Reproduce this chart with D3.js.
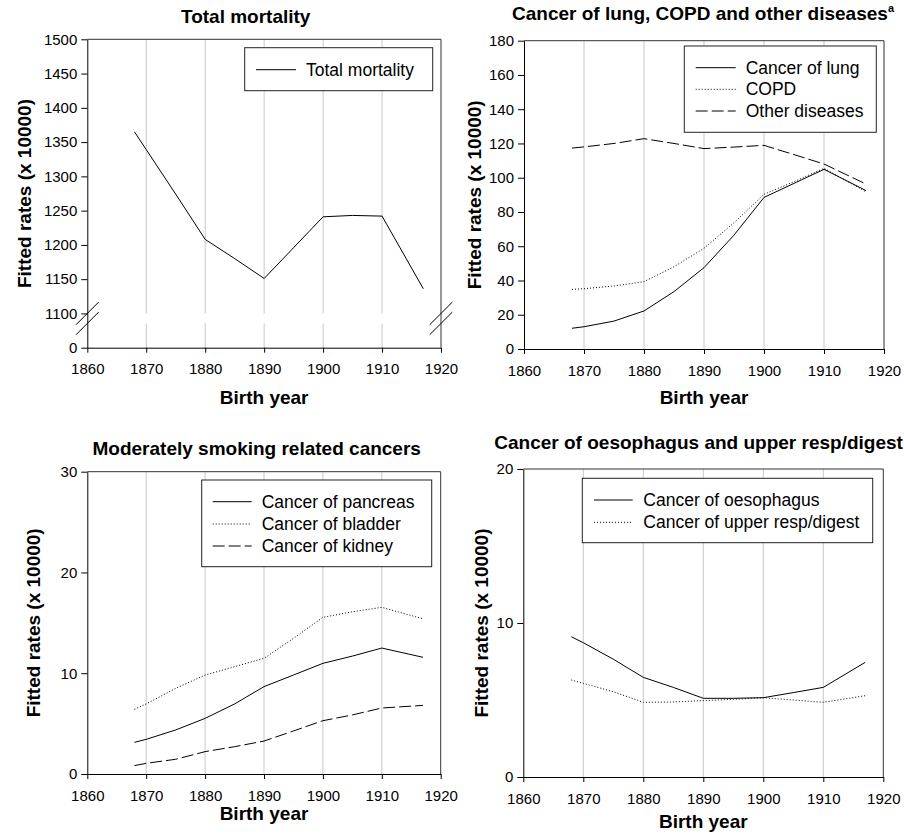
<!DOCTYPE html>
<html>
<head>
<meta charset="utf-8">
<script src="https://cdn.jsdelivr.net/npm/d3@7"></script>
<style>
  body { margin: 0; background: #fff; }
  svg { display: block; font-family: "Liberation Sans", Arial, sans-serif; }
</style>
</head>
<body>
<div id="vis"></div>
<script>
/*
Data
*/

const years = [1868, 1870, 1875, 1880, 1885, 1890, 1895, 1900, 1905, 1910, 1917];
const xTicks = [1860, 1870, 1880, 1890, 1900, 1910, 1920];

const totalMortality = [1365, 1339, 1274, 1208, 1180, 1151, 1196, 1241, 1243, 1242, 1136];

const lungCancer    = [12.1, 13, 16.3, 22.2, 33.5, 47.5, 66.5, 88.5, 96.7, 104.9, 92.5];
const copd          = [34.8, 35.2, 36.8, 39.3, 48, 58.8, 73.7, 90.3, 97.7, 105.5, 91.8];
const otherDiseases = [117.3, 118, 120, 122.8, 120, 117, 117.9, 118.9, 113.5, 108, 96.3];

const pancreas = [3.14, 3.44, 4.37, 5.52, 6.95, 8.67, 9.82, 10.98, 11.7, 12.5, 11.58];
const bladder  = [6.42, 6.95, 8.5, 9.82, 10.65, 11.48, 13.46, 15.55, 16.1, 16.54, 15.4];
const kidney   = [0.83, 1.06, 1.46, 2.22, 2.71, 3.27, 4.27, 5.29, 5.86, 6.55, 6.81];

const oesophagus  = [9.11, 8.72, 7.65, 6.47, 5.82, 5.11, 5.11, 5.15, 5.48, 5.82, 7.45];
const upperResp   = [6.3, 6.08, 5.54, 4.85, 4.87, 4.96, 5.04, 5.15, 5.0, 4.85, 5.28];

const yTicksTotal = [0, 1100, 1150, 1200, 1250, 1300, 1350, 1400, 1450, 1500];
const yTicksLung = [0, 20, 40, 60, 80, 100, 120, 140, 160, 180];
const yTicksModerate = [0, 10, 20, 30];
const yTicksOesoph = [0, 10, 20];

/*
Styles
*/

const DASH = {solid: null, dotted: "1,2", dashed: "12,4"};
const FONT_TICK = 15;
const FONT_BOLD = 19;
const FONT_LEGEND = 17.5;

const WIDTH = 904, HEIGHT = 834;

const svg = d3.select("#vis")
              .append("svg")
              .attr("width", WIDTH)
              .attr("height", HEIGHT);

/*
Panels
*/

const panels = [
  {
    title: "Total mortality", titleX: 245.7, titleY: 22.5, titleAnchor: "middle",
    left: 87.3, right: 441, top: 39.3, bottom: 347.7,
    yTicks: yTicksTotal, broken: true,
    ylabelX: 31, xlabelY: 404,
    series: [{name: "Total mortality", values: totalMortality, dash: "solid"}],
    legend: {x0: 244.7, x1: 432.7, y0: 47.7, y1: 90.7, lx0: 256, lx1: 296, tx: 306, rows: [69.7]}
  },
  {
    title: "Cancer of lung, COPD and other diseases", sup: "a", titleX: 512, titleY: 20, titleAnchor: "start",
    left: 524, right: 884, top: 40.7, bottom: 349,
    yTicks: yTicksLung,
    ylabelX: 481, xlabelY: 404,
    series: [
      {name: "Cancer of lung", values: lungCancer, dash: "solid"},
      {name: "COPD", values: copd, dash: "dotted"},
      {name: "Other diseases", values: otherDiseases, dash: "dashed"}
    ],
    legend: {x0: 684.3, x1: 876.3, y0: 46, y1: 132.3, lx0: 695.7, lx1: 735.7, tx: 745.7, rows: [67.7, 89.3, 111]}
  },
  {
    title: "Moderately smoking related cancers", titleX: 256.7, titleY: 455, titleAnchor: "middle",
    left: 87.3, right: 440.7, top: 471.7, bottom: 774,
    yTicks: yTicksModerate,
    ylabelX: 39.5, xlabelY: 820,
    series: [
      {name: "Cancer of pancreas", values: pancreas, dash: "solid"},
      {name: "Cancer of bladder", values: bladder, dash: "dotted"},
      {name: "Cancer of kidney", values: kidney, dash: "dashed"}
    ],
    legend: {x0: 201.7, x1: 431.7, y0: 480, y1: 566.7, lx0: 212.7, lx1: 251.7, tx: 261.7, rows: [501.7, 524, 546]}
  },
  {
    title: "Cancer of oesophagus and upper resp/digest", titleX: 494.3, titleY: 449.3, titleAnchor: "start",
    left: 523.3, right: 883.3, top: 469, bottom: 777,
    yTicks: yTicksOesoph,
    ylabelX: 488, xlabelY: 828,
    series: [
      {name: "Cancer of oesophagus", values: oesophagus, dash: "solid"},
      {name: "Cancer of upper resp/digest", values: upperResp, dash: "dotted"}
    ],
    legend: {x0: 582.3, x1: 872.7, y0: 478.3, y1: 542.7, lx0: 594, lx1: 632.7, tx: 643.3, rows: [500, 522.3]}
  }
];

panels.forEach(drawPanel);

function drawPanel(p) {
  const g = svg.append("g");

  const x = d3.scaleLinear().domain([1860, 1920]).range([p.left, p.right]);

  let y;
  if (p.broken) {
    // broken axis: 0 sits one tick step below 1100
    const step = (p.bottom - p.top) / (p.yTicks.length - 1);
    y = d3.scaleLinear().domain([0, 1100, 1500]).range([p.bottom, p.bottom - step, p.top]);
  } else {
    y = d3.scaleLinear().domain(d3.extent(p.yTicks)).range([p.bottom, p.top]);
  }

  // vertical grid lines
  const inner = xTicks.slice(1, -1);
  if (p.broken) {
    const yb = y(1100);
    g.selectAll("line.grid-a").data(inner).enter().append("line")
      .attr("x1", d => x(d)).attr("x2", d => x(d))
      .attr("y1", p.top).attr("y2", yb)
      .attr("stroke", "#c8c8c8");
    g.selectAll("line.grid-b").data(inner).enter().append("line")
      .attr("x1", d => x(d)).attr("x2", d => x(d))
      .attr("y1", yb + 10).attr("y2", p.bottom)
      .attr("stroke", "#c8c8c8");
  } else {
    g.selectAll("line.grid").data(inner).enter().append("line")
      .attr("x1", d => x(d)).attr("x2", d => x(d))
      .attr("y1", p.top).attr("y2", p.bottom)
      .attr("stroke", "#c8c8c8");
  }

  // top and right frame
  g.append("path")
    .attr("d", `M${p.left},${p.top}H${p.right}V${p.bottom}`)
    .attr("fill", "none")
    .attr("stroke", "#333");

  // axes
  const yAxis = g.append("g")
    .attr("transform", `translate(${p.left},0)`)
    .call(d3.axisLeft(y).tickValues(p.yTicks).tickFormat(d3.format("d"))
            .tickSize(6).tickPadding(4).tickSizeOuter(0));
  const xAxis = g.append("g")
    .attr("transform", `translate(0,${p.bottom})`)
    .call(d3.axisBottom(x).tickValues(xTicks).tickFormat(d3.format("d"))
            .tickSize(5).tickPadding(11).tickSizeOuter(0));

  [yAxis, xAxis].forEach(a => {
    a.selectAll("text").attr("font-size", FONT_TICK).attr("font-family", null).attr("fill", "#000");
    a.selectAll("line, path").attr("stroke", "#000");
  });

  // break marks
  if (p.broken) {
    const yb = y(1100) + 5;
    [p.left, p.right].forEach(cx => {
      [-5, 5].forEach(off => {
        g.append("line")
          .attr("x1", cx - 11.3).attr("y1", yb + off + 11.3)
          .attr("x2", cx + 11.3).attr("y2", yb + off - 11.3)
          .attr("stroke", "#000");
      });
    });
  }

  // series
  const line = d3.line()
                 .x((d, i) => x(years[i]))
                 .y(d => y(d));

  p.series.forEach(s => {
    g.append("path")
      .attr("d", line(s.values))
      .attr("fill", "none")
      .attr("stroke", "#000")
      .attr("stroke-width", 1)
      .attr("stroke-dasharray", DASH[s.dash]);
  });

  // legend
  const L = p.legend;
  g.append("rect")
    .attr("x", L.x0).attr("y", L.y0)
    .attr("width", L.x1 - L.x0).attr("height", L.y1 - L.y0)
    .attr("fill", "#fff").attr("stroke", "#222");
  p.series.forEach((s, i) => {
    g.append("line")
      .attr("x1", L.lx0).attr("x2", L.lx1)
      .attr("y1", L.rows[i]).attr("y2", L.rows[i])
      .attr("stroke", "#000")
      .attr("stroke-dasharray", DASH[s.dash]);
    g.append("text")
      .attr("x", L.tx).attr("y", L.rows[i] + 6)
      .attr("font-size", FONT_LEGEND)
      .text(s.name);
  });

  // titles and axis labels
  const t = g.append("text")
    .attr("x", p.titleX).attr("y", p.titleY)
    .attr("text-anchor", p.titleAnchor)
    .attr("font-size", FONT_BOLD).attr("font-weight", "bold")
    .text(p.title);
  if (p.sup) {
    t.append("tspan")
      .attr("font-size", 11)
      .attr("dy", -8)
      .text(p.sup);
  }

  g.append("text")
    .attr("x", (p.left + p.right) / 2).attr("y", p.xlabelY)
    .attr("text-anchor", "middle")
    .attr("font-size", FONT_BOLD).attr("font-weight", "bold")
    .text("Birth year");

  g.append("text")
    .attr("transform", `translate(${p.ylabelX},${(p.top + p.bottom) / 2}) rotate(-90)`)
    .attr("text-anchor", "middle")
    .attr("font-size", FONT_BOLD).attr("font-weight", "bold")
    .text("Fitted rates (x 10000)");
}
</script>
</body>
</html>
